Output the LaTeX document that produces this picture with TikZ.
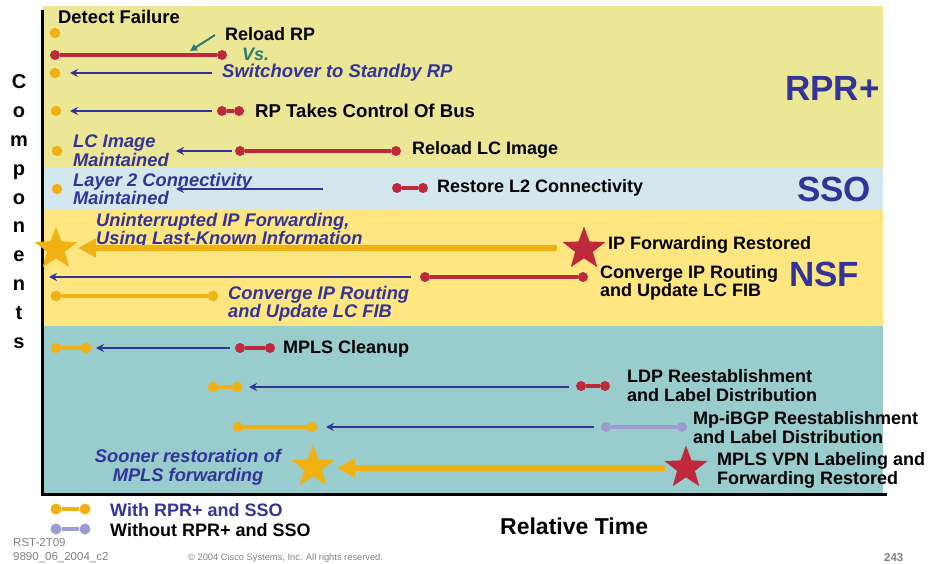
\documentclass[tikz,border=0pt]{standalone}
\usepackage{fontspec}
\setmainfont{Liberation Sans}
\usetikzlibrary{shapes.geometric,arrows.meta}
\definecolor{bgA}{HTML}{EBE797}
\definecolor{bgB}{HTML}{D3E8EE}
\definecolor{bgC}{HTML}{FFE680}
\definecolor{bgD}{HTML}{99CCCC}
\definecolor{cred}{HTML}{BE2A3C}
\definecolor{corange}{HTML}{F0B213}
\definecolor{cblue}{HTML}{333399}
\definecolor{clav}{HTML}{9C9CCE}
\definecolor{cteal}{HTML}{2E7B6E}
\definecolor{cgrey}{HTML}{808080}
\tikzset{
  rdot/.style={circle,fill=cred,inner sep=0,minimum size=10pt},
  odot/.style={circle,fill=corange,inner sep=0,minimum size=10.5pt},
  ldot/.style={circle,fill=clav,inner sep=0,minimum size=10pt},
  redbar/.style={draw=cred,line width=3.6pt},
  orbar/.style={draw=corange,line width=3.6pt},
  lavbar/.style={draw=clav,line width=3.6pt},
  bluearrow/.style={draw=cblue,line width=2.6pt,-{Stealth[length=8pt,width=8pt]}},
  fatarrow/.style={draw=corange,line width=6pt,-{Triangle[length=18pt,width=18pt]}},
  tealarrow/.style={draw=cteal,line width=2pt,-{Triangle[length=7pt,width=7pt]}},
  ostar/.style={star,star points=5,star point ratio=2.4,inner sep=0,minimum size=45pt,fill=corange},
  rstar/.style={star,star points=5,star point ratio=2.4,inner sep=0,minimum size=45pt,fill=cred},
  blk/.style={font=\fontsize{18}{18.5}\selectfont\bfseries,text=black,inner sep=0,anchor=west,align=left},
  blu/.style={font=\fontsize{18.3}{18.5}\selectfont\bfseries\itshape,text=cblue,inner sep=0,anchor=west,align=left},
  vsstyle/.style={font=\fontsize{18}{18.5}\selectfont\bfseries\itshape,text=cteal,inner sep=0,anchor=west},
  big/.style={font=\fontsize{35}{36}\selectfont\bfseries,text=cblue,inner sep=0,anchor=west},
  comp/.style={font=\fontsize{20}{20}\selectfont\bfseries,inner sep=0,anchor=base},
  foot/.style={font=\fontsize{11.5}{12}\selectfont,text=cgrey,inner sep=0,anchor=west},
}
\begin{document}
\begin{tikzpicture}[x=1pt,y=-1pt]
\useasboundingbox (0,0) rectangle (934,564);
% bands
\fill[bgA] (43,6) rectangle (883,167);
\fill[bgB] (43,167) rectangle (883,209);
\fill[bgC] (43,209) rectangle (883,326);
\fill[bgD] (43,326) rectangle (883,494);
\draw[line width=3pt] (42,10) -- (42,494) -- (887,494);
% Components
\foreach \l [count=\i] in {C,o,m,p,o,n,e,n,t,s}
  \node[comp] (c\i) at (19,60.2+28.8*\i) {\l};
% row 1
\node[odot] (d1) at (55,33) {};
\node[blk,font=\fontsize{18.4}{18.5}\selectfont\bfseries] (t1) at (58,17) {Detect Failure};
% row 2
\node[rdot] (r2a) at (55,55) {};
\node[rdot] (r2b) at (222,55) {};
\draw[redbar] (r2a) -- (r2b);
\node[blk] (t2) at (225,34) {Reload RP};
\node[vsstyle] (vs) at (242,54) {Vs.};
\coordinate (ta) at (215,35);
\coordinate (tb) at (190,51);
\draw[tealarrow] (ta) -- (tb);
% row 3
\node[odot] (d3) at (55,73) {};
\coordinate (b3s) at (212,73);
\coordinate (b3e) at (70,73);
\draw[bluearrow] (b3s) -- (b3e);
\node[blu,font=\fontsize{18.5}{18.5}\selectfont\bfseries\itshape] (t3) at (222,73) {Switchover to Standby RP};
% row 4
\node[odot] (d4) at (56,111) {};
\coordinate (b4s) at (212,111);
\coordinate (b4e) at (70,111);
\draw[bluearrow] (b4s) -- (b4e);
\node[rdot] (r4a) at (222,111) {};
\node[rdot] (r4b) at (239,111) {};
\draw[redbar] (r4a) -- (r4b);
\node[blk,font=\fontsize{18.6}{18.5}\selectfont\bfseries] (t4) at (255,111) {RP Takes Control Of Bus};
% row 5
\node[odot] (d5) at (57,151) {};
\node[blu] (t5) at (73,150.5) {LC Image\\Maintained};
\coordinate (b5s) at (232,151);
\coordinate (b5e) at (176,151);
\draw[bluearrow] (b5s) -- (b5e);
\node[rdot] (r5a) at (240,151) {};
\node[rdot] (r5b) at (396,151) {};
\draw[redbar] (r5a) -- (r5b);
\node[blk] (t5b) at (412,150) {Reload LC Image};
% row 6
\node[odot] (d6) at (57,189) {};
\node[blu] (t6) at (73,189) {Layer 2 Connectivity\\Maintained};
\coordinate (b6s) at (323,189);
\coordinate (b6e) at (176,189);
\draw[bluearrow] (b6s) -- (b6e);
\node[rdot] (r6a) at (397,188) {};
\node[rdot] (r6b) at (423,188) {};
\draw[redbar] (r6a) -- (r6b);
\node[blk] (t6b) at (437,188) {Restore L2 Connectivity};
% row 7
\node[blu] (t7) at (96,231) {Uninterrupted IP Forwarding,\\Using Last-Known Information};
\node[ostar] (s7a) at (56,249) {};
\coordinate (f7s) at (557,248);
\coordinate (f7e) at (78,248);
\draw[fatarrow] (f7s) -- (f7e);
\node[rstar] (s7b) at (584,249) {};
\node[blk] (t7b) at (608,245) {IP Forwarding Restored};
% row 8
\coordinate (b8s) at (411,277);
\coordinate (b8e) at (49,277);
\draw[bluearrow] (b8s) -- (b8e);
\node[rdot] (r8a) at (425,277) {};
\node[rdot] (r8b) at (583,277) {};
\draw[redbar] (r8a) -- (r8b);
\node[blk] (t8) at (600,283) {Converge IP Routing\\and Update LC FIB};
% row 9
\node[odot] (o9a) at (56,296) {};
\node[odot] (o9b) at (213,296) {};
\draw[orbar] (o9a) -- (o9b);
\node[blu] (t9) at (228,304) {Converge IP Routing\\and Update LC FIB};
% row 10
\node[odot] (o10a) at (56,348) {};
\node[odot] (o10b) at (86,348) {};
\draw[orbar] (o10a) -- (o10b);
\coordinate (b10s) at (230,348);
\coordinate (b10e) at (96,348);
\draw[bluearrow] (b10s) -- (b10e);
\node[rdot] (r10a) at (240,348) {};
\node[rdot] (r10b) at (270,348) {};
\draw[redbar] (r10a) -- (r10b);
\node[blk] (t10) at (283,349) {MPLS Cleanup};
% row 11
\node[odot] (o11a) at (213,387) {};
\node[odot] (o11b) at (237,387) {};
\draw[orbar] (o11a) -- (o11b);
\coordinate (b11s) at (569,387);
\coordinate (b11e) at (249,387);
\draw[bluearrow] (b11s) -- (b11e);
\node[rdot] (r11a) at (581,386) {};
\node[rdot] (r11b) at (605,386) {};
\draw[redbar] (r11a) -- (r11b);
\node[blk] (t11) at (627,385.5) {LDP Reestablishment\\and Label Distribution};
% row 12
\node[odot] (o12a) at (238,427) {};
\node[odot] (o12b) at (312,427) {};
\draw[orbar] (o12a) -- (o12b);
\coordinate (b12s) at (594,427);
\coordinate (b12e) at (326,427);
\draw[bluearrow] (b12s) -- (b12e);
\node[ldot] (l12a) at (606,427) {};
\node[ldot] (l12b) at (682,427) {};
\draw[lavbar] (l12a) -- (l12b);
\node[blk] (t12) at (693,427.5) {Mp-iBGP Reestablishment\\and Label Distribution};
% row 13
\node[blu,anchor=center,align=center] (t13) at (188,467.5) {Sooner restoration of\\MPLS forwarding};
\node[ostar] (s13a) at (313,467) {};
\coordinate (f13s) at (665,468);
\coordinate (f13e) at (337,468);
\draw[fatarrow] (f13s) -- (f13e);
\node[rstar] (s13b) at (686,468) {};
\node[blk] (t13b) at (717,470.5) {MPLS VPN Labeling and\\Forwarding Restored};
% section labels
\node[big] (rpr) at (785,88) {RPR+};
\node[big] (sso) at (797,189) {SSO};
\node[big] (nsf) at (789,274) {NSF};
% axis label
\node[font=\fontsize{23}{24}\selectfont\bfseries,inner sep=0,anchor=west] (rt) at (500,526) {Relative Time};
% legend
\node[odot,minimum size=11pt] (lg1a) at (56,509) {};
\node[odot,minimum size=11pt] (lg1b) at (85,509) {};
\draw[orbar] (lg1a) -- (lg1b);
\node[blk,text=cblue] (lg1t) at (110,510) {With RPR+ and SSO};
\node[ldot,minimum size=11pt] (lg2a) at (56,529) {};
\node[ldot,minimum size=11pt] (lg2b) at (85,529) {};
\draw[lavbar] (lg2a) -- (lg2b);
\node[blk] (lg2t) at (110,530) {Without RPR+ and SSO};
% footer
\node[foot] (f1) at (13,543) {RST-2T09};
\node[foot] (f2) at (13,558) {9890\_06\_2004\_c2};
\node[foot,font=\fontsize{9.3}{10}\selectfont] (f3) at (188,558) {© 2004 Cisco Systems, Inc. All rights reserved.};
\node[foot,font=\fontsize{11.5}{12}\selectfont\bfseries] (f4) at (884,558) {243};
\end{tikzpicture}
\end{document}
